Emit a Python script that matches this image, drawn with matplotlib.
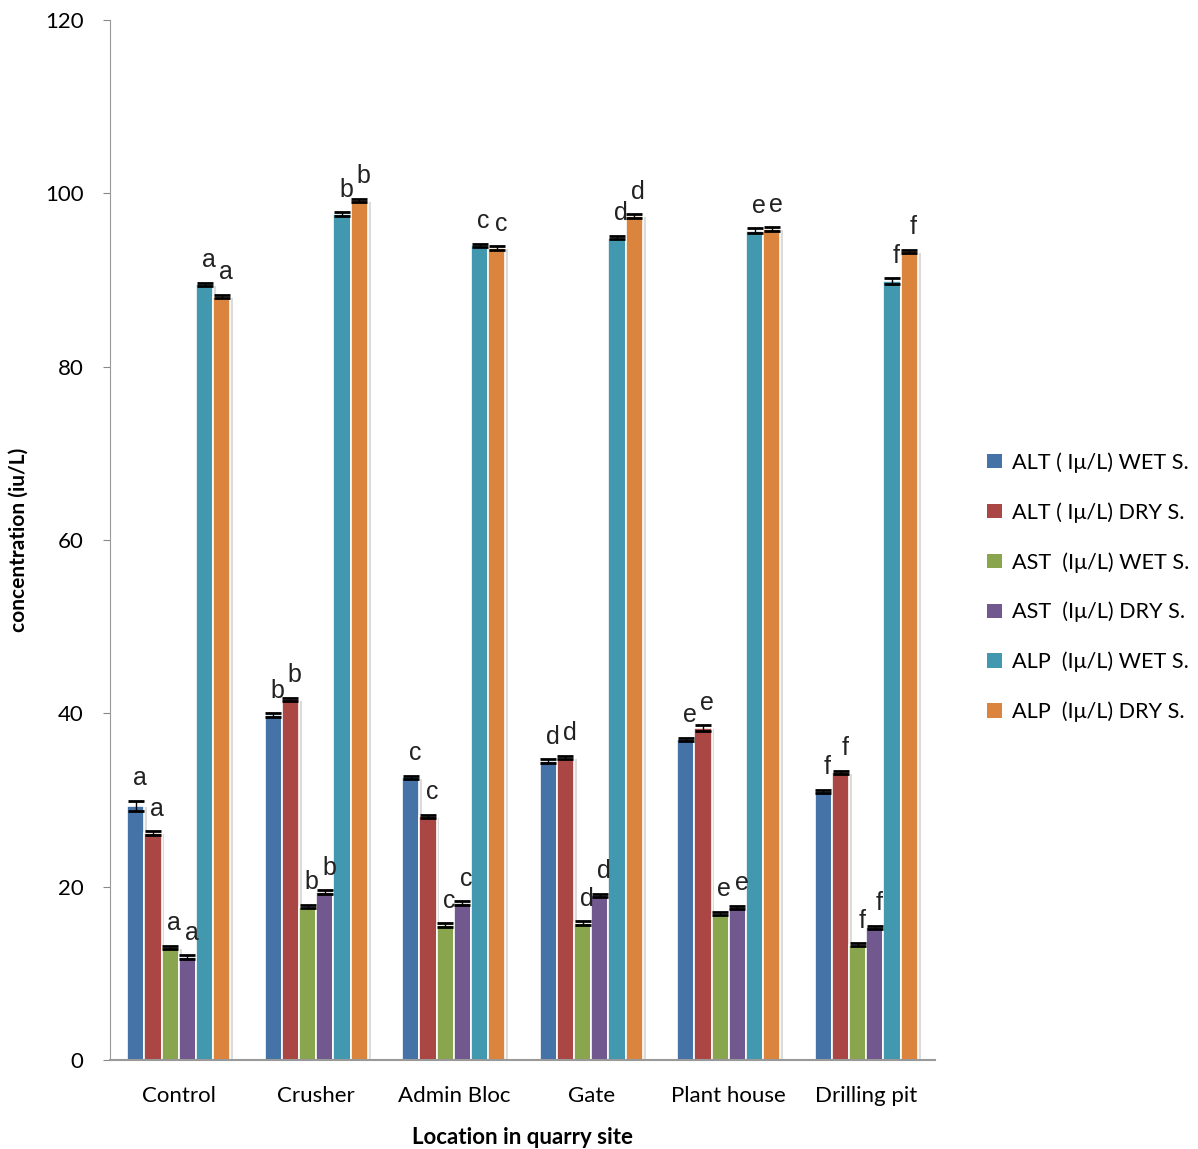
import numpy as np
import matplotlib
matplotlib.use('Agg')
import matplotlib.pyplot as plt
import matplotlib.patheffects as pe
from matplotlib.patches import Patch

# data
locations = ['Control', 'Crusher', 'Admin Bloc', 'Gate', 'Plant house', 'Drilling pit']
series_names = ['ALT ( I\u03bc/L) WET S.', 'ALT ( I\u03bc/L) DRY S.',
                'AST  (I\u03bc/L) WET S.', 'AST  (I\u03bc/L) DRY S.',
                'ALP  (I\u03bc/L) WET S.', 'ALP  (I\u03bc/L) DRY S.']
alt_wet = [29.3, 39.8, 32.6, 34.5, 37.0, 31.0]
alt_dry = [26.2, 41.6, 28.1, 34.9, 38.3, 33.2]
ast_wet = [13.0, 17.7, 15.6, 15.8, 16.9, 13.3]
ast_dry = [11.9, 19.4, 18.1, 19.0, 17.6, 15.3]
alp_wet = [89.5, 97.6, 94.0, 94.9, 95.7, 89.9]
alp_dry = [88.1, 99.2, 93.7, 97.4, 95.9, 93.3]
alt_wet_err = [0.6, 0.2, 0.2, 0.2, 0.2, 0.2]
alt_dry_err = [0.2, 0.2, 0.2, 0.2, 0.3, 0.2]
ast_wet_err = [0.2, 0.2, 0.2, 0.2, 0.2, 0.2]
ast_dry_err = [0.2, 0.2, 0.2, 0.2, 0.2, 0.2]
alp_wet_err = [0.2, 0.2, 0.2, 0.2, 0.3, 0.3]
alp_dry_err = [0.2, 0.2, 0.2, 0.2, 0.2, 0.2]
group_letters = ['a', 'b', 'c', 'd', 'e', 'f']

values = [alt_wet, alt_dry, ast_wet, ast_dry, alp_wet, alp_dry]
errors = [alt_wet_err, alt_dry_err, ast_wet_err, ast_dry_err, alp_wet_err, alp_dry_err]
colors = ['#4572A7', '#AA4643', '#89A54E', '#71588F', '#4198AF', '#DB843D']

plt.rcParams['font.family'] = ['Lato', 'DejaVu Sans']

fig = plt.figure(figsize=(11.98, 11.49), dpi=100)
ax = fig.add_axes([0.0918, 0.0775, 0.6887, 0.905])

x = np.arange(len(locations))
bw = 0.125
shadow = [pe.SimplePatchShadow(offset=(2, -1), shadow_rgbFace='#999999', alpha=0.35), pe.Normal()]
for k, (vals, errs) in enumerate(zip(values, errors)):
    pos = x + (k - 2.5) * bw
    bars = ax.bar(pos, vals, width=bw, color=colors[k], edgecolor='white', linewidth=1.2, zorder=2)
    for b in bars:
        b.set_path_effects(shadow)
    ax.errorbar(pos, vals, yerr=errs, fmt='none', ecolor='black', elinewidth=1.0,
                capsize=6, capthick=2, zorder=3)
    for p, v, e, lt in zip(pos, vals, errs, group_letters):
        ax.text(p + 0.03, v + e + 1.2, lt, ha='center', va='bottom', fontsize=18,
                family='Liberation Sans', color='#222222', zorder=4)

ax.set_xlim(-0.5, len(locations) - 0.5)
ax.set_ylim(0, 120)
ax.set_yticks(np.arange(0, 121, 20))
ax.set_xticks(x)
ax.set_xticklabels(locations, fontsize=16)
ax.tick_params(axis='y', labelsize=16, length=5, color='#888888', direction='out', pad=14)
ax.tick_params(axis='x', length=0, pad=19)
for s in ['top', 'right']:
    ax.spines[s].set_visible(False)
ax.spines['left'].set_color('#999999')
ax.spines['bottom'].set_color('#999999')
ax.spines['bottom'].set_linewidth(1.5)

ax.set_xlabel('Location in quarry site', fontsize=16, fontweight='bold', labelpad=15)
ax.set_ylabel('concentration (iu/L)', fontsize=15, fontweight='bold', labelpad=12)

handles = [Patch(facecolor=c, edgecolor='none') for c in colors]
fig.legend(handles, series_names, loc='center left', bbox_to_anchor=(0.808, 0.489),
           frameon=False, fontsize=15.6, handlelength=0.65, handleheight=0.65,
           handletextpad=0.5, labelspacing=1.35)

fig.savefig('out.png', dpi=100)
